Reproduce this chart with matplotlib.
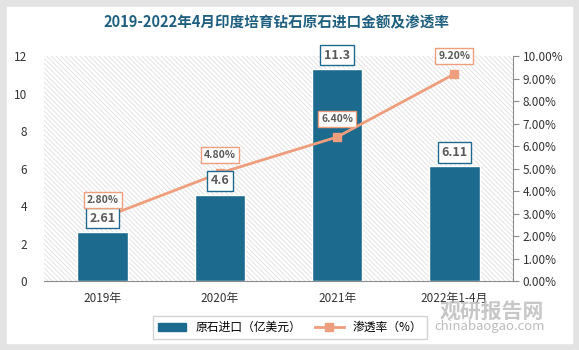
import matplotlib
matplotlib.use("Agg")
import matplotlib.pyplot as plt
from matplotlib.patches import Rectangle
from matplotlib.ticker import FuncFormatter, MultipleLocator

plt.rcParams['font.family'] = ['Noto Sans CJK SC', 'DejaVu Sans']
plt.rcParams['hatch.linewidth'] = 0.5

categories = ["2019年", "2020年", "2021年", "2022年1-4月"]
imports = [2.61, 4.6, 11.3, 6.11]
rates = [2.80, 4.80, 6.40, 9.20]
bar_labels = ["2.61", "4.6", "11.3", "6.11"]
rate_labels = ["2.80%", "4.80%", "6.40%", "9.20%"]

bar_color = '#1c6b8e'
line_color = '#ee9e7c'
text_gray = '#595959'

fig = plt.figure(figsize=(5.79, 3.5), dpi=100)
fig.patch.set_facecolor('white')
fig.add_artist(Rectangle((0, 0), 1, 1, transform=fig.transFigure, fill=False,
                         edgecolor='#e3e3e3', linewidth=9, zorder=0))

ax = fig.add_axes([0.076, 0.197, 0.810, 0.643])
ax.add_patch(Rectangle((0, 0), 1, 1, transform=ax.transAxes, facecolor='white',
                       edgecolor='#d9d9d9', linewidth=0, hatch='\\\\\\\\\\\\\\', zorder=0))
ax.set_facecolor('none')
x = list(range(len(categories)))
ax.bar(x, imports, width=0.43, color=bar_color, edgecolor='white', linewidth=1.0, zorder=2)
ax.set_ylim(0, 12)
ax.set_xlim(-0.5, 3.5)
ax.yaxis.set_major_locator(MultipleLocator(2))
ax.set_xticks(x)
ax.set_xticklabels(categories)
for s in ['top', 'right', 'left']:
    ax.spines[s].set_visible(False)
ax.spines['bottom'].set_color('#8c8c8c')
ax.tick_params(axis='both', length=0, labelsize=8.5, colors='#333333', pad=8)
ax.tick_params(axis='y', pad=12)

ax2 = ax.twinx()
ax2.plot(x, rates, color=line_color, linewidth=2, marker='s', markersize=6, zorder=4)
ax2.set_ylim(0, 10)
ax2.yaxis.set_major_locator(MultipleLocator(1))
ax2.yaxis.set_major_formatter(FuncFormatter(lambda v, p: f"{v:.2f}%"))
for s in ['top', 'left', 'bottom']:
    ax2.spines[s].set_visible(False)
ax2.spines['right'].set_color('#8c8c8c')
ax2.tick_params(axis='y', length=4, direction='out', color='#8c8c8c', labelsize=8.5,
                labelcolor='#333333', pad=3)

for xi, v, lab in zip(x, imports, bar_labels):
    ax2.annotate(lab, (xi, v), xycoords=ax.transData, xytext=(0, 10),
                 textcoords='offset points', ha='center', va='center', fontsize=9,
                 fontweight='bold', color=text_gray, zorder=6,
                 bbox=dict(boxstyle='square,pad=0.3', fc='white', ec=bar_color, lw=1))
for xi, v, lab in zip(x, rates, rate_labels):
    ax2.annotate(lab, (xi, v), xytext=(0, 13), textcoords='offset points', ha='center',
                 va='center', fontsize=7.5, fontweight='bold', color=text_gray, zorder=6,
                 bbox=dict(boxstyle='square,pad=0.3', fc='white', ec=line_color, lw=1))

fig.text(0.478, 0.937, "2019-2022年4月印度培育钻石原石进口金额及渗透率", ha='center', va='center',
         fontsize=10.5, fontweight='bold', color='#1f5f7f')

handles = [plt.Rectangle((0, 0), 1, 1, color=bar_color),
           plt.Line2D([], [], color=line_color, marker='s', markersize=6, linewidth=2)]
leg = fig.legend(handles, ["原石进口（亿美元）", "渗透率（%）"], loc='center',
                 bbox_to_anchor=(0.501, 0.064), ncol=2, fontsize=8.5, frameon=True,
                 fancybox=False, edgecolor='#c8c8c8', handlelength=2.4, columnspacing=1.2,
                 borderpad=0.4)
leg.get_frame().set_linewidth(1)

fig.text(0.85, 0.112, "观研报告网", ha='center', va='center', fontsize=15, fontweight='bold',
         color='#b0b0b0', alpha=0.7, zorder=10)
fig.text(0.845, 0.068, "chinabaogao.com", ha='center', va='center', fontsize=9.5,
         color='#a0a0a0', alpha=0.7, zorder=10)

fig.savefig("out.png", dpi=100)
